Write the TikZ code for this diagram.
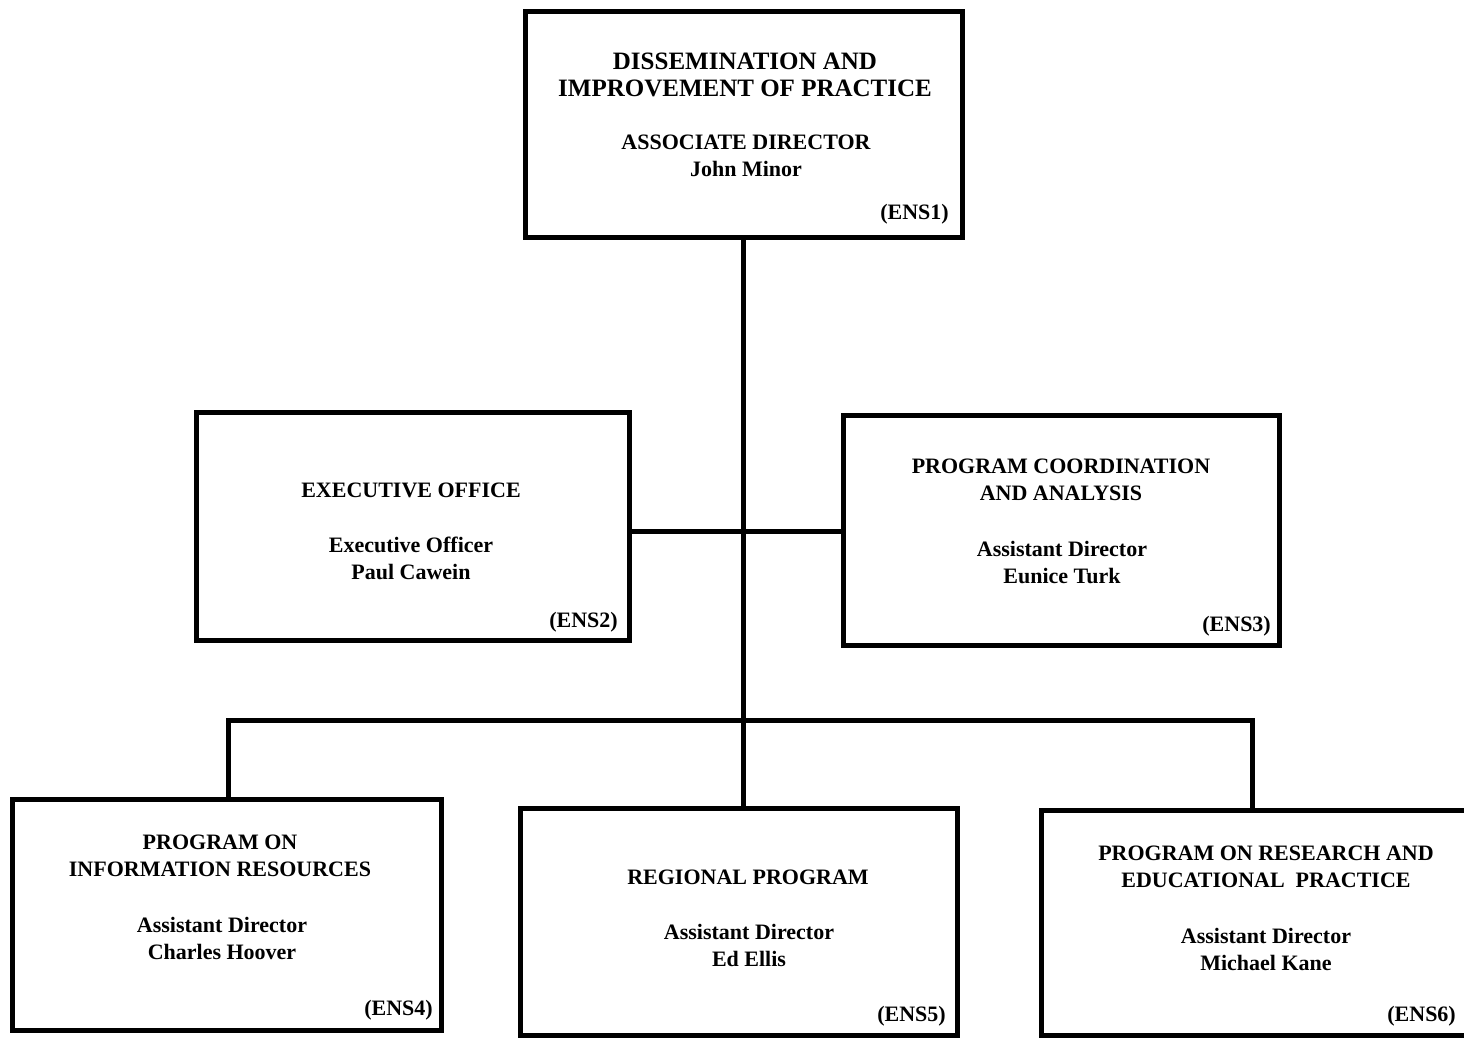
\documentclass[tikz,border=0pt]{standalone}
\usepackage{fontspec}
\setmainfont{Liberation Serif}
\begin{document}
\begin{tikzpicture}[x=1pt,y=-1pt,
  box/.style={draw=black, line width=5pt, inner sep=0pt},
  conn/.style={draw=black, line width=5pt, line cap=rect},
  txt/.style={align=center, font=\bfseries\fontsize{22}{27}\selectfont, inner sep=0pt},
  ttl/.style={align=center, font=\bfseries\fontsize{25}{26.5}\selectfont, inner sep=0pt},
  code/.style={anchor=east, font=\bfseries\fontsize{22}{26}\selectfont, inner sep=0pt}]
\useasboundingbox (0,0) rectangle (1464,1038);
\fill[white] (0,0) rectangle (1464,1038);

% boxes
\node[box, minimum width=437pt, minimum height=226pt] (top) at (743.5,124.5) {};
\node[box, minimum width=433pt, minimum height=228pt] (exec) at (412.5,526) {};
\node[box, minimum width=436pt, minimum height=230pt] (coord) at (1061,530) {};
\node[box, minimum width=429pt, minimum height=231pt] (info) at (226.5,915) {};
\node[box, minimum width=437pt, minimum height=227pt] (reg) at (738.5,921.5) {};
\node[box, minimum width=440pt, minimum height=225pt] (res) at (1261,922.5) {};

% connectors
\coordinate (bus) at (743,720);
\coordinate (busL) at (228,720);
\coordinate (busR) at (1252,720);
\coordinate (mid) at (743,531);
\draw[conn] (top.south -| bus) -- (bus) -- (bus |- reg.north);
\draw[conn] (exec.east |- mid) -- (coord.west |- mid);
\draw[conn] (busL |- info.north) -- (busL) -- (busR) -- (busR |- res.north);

% texts: top
\node[ttl] (t1) at (745,75) {DISSEMINATION AND\\IMPROVEMENT OF PRACTICE};
\node[txt] (t1b) at (746,156) {ASSOCIATE DIRECTOR\\John Minor};
\node[code] (c1) at (949,214) {(ENS1)};

% exec
\node[txt] (t2) at (411,490) {EXECUTIVE OFFICE};
\node[txt] (t2b) at (411,558) {Executive Officer\\Paul Cawein};
\node[code] (c2) at (618,622) {(ENS2)};

% coord
\node[txt] (t3) at (1061,480) {PROGRAM COORDINATION\\AND ANALYSIS};
\node[txt] (t3b) at (1062,562) {Assistant Director\\Eunice Turk};
\node[code] (c3) at (1271,626) {(ENS3)};

% info
\node[txt] (t4) at (220,856) {PROGRAM ON\\INFORMATION RESOURCES};
\node[txt] (t4b) at (222,938) {Assistant Director\\Charles Hoover};
\node[code] (c4) at (433,1010) {(ENS4)};

% regional
\node[txt] (t5) at (748,877) {REGIONAL PROGRAM};
\node[txt] (t5b) at (749,945) {Assistant Director\\Ed Ellis};
\node[code] (c5) at (946,1016) {(ENS5)};

% research
\node[txt] (t6) at (1266,867) {PROGRAM ON RESEARCH AND\\EDUCATIONAL\ \ PRACTICE};
\node[txt] (t6b) at (1266,949) {Assistant Director\\Michael Kane};
\node[code] (c6) at (1456,1016) {(ENS6)};
\end{tikzpicture}
\end{document}
